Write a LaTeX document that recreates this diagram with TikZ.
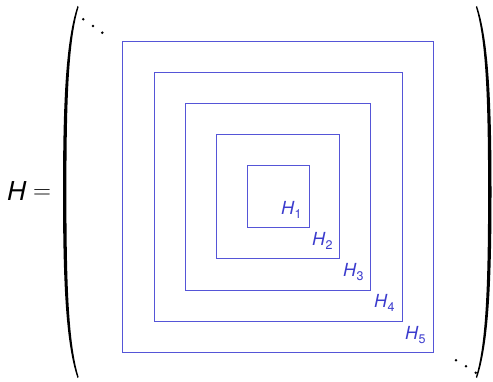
\documentclass[tikz,border=0pt]{standalone}
\usepackage{fontspec}
\setmainfont{TeX Gyre Heros}
\definecolor{boxblue}{RGB}{60,60,205}
\definecolor{lineblue}{RGB}{85,85,215}
\begin{document}
\begin{tikzpicture}[x=1pt,y=-1pt,
  sq/.style={draw=lineblue,line width=0.8pt},
  lab/.style={text=boxblue,anchor=base west,inner sep=0pt,font=\fontsize{18}{18}\selectfont},
  dot/.style={fill=black,draw=none}]
\useasboundingbox (0,0) rectangle (493,382);
% squares
\draw[sq] (247,165) rectangle (309,227);
\draw[sq] (216,134) rectangle (339,258);
\draw[sq] (185,103) rectangle (370,290);
\draw[sq] (154,72) rectangle (402,321);
\draw[sq] (122,41) rectangle (433,352);
% labels
\newcommand\hsub[1]{\textit{H}\raisebox{-4pt}{\fontsize{12.5}{12.5}\selectfont #1}}
\node[lab] (h1) at (281,215) {\hsub{1}};
\node[lab] (h2) at (312,246) {\hsub{2}};
\node[lab] (h3) at (343,277) {\hsub{3}};
\node[lab] (h4) at (374,308) {\hsub{4}};
\node[lab] (h5) at (405,339) {\hsub{5}};
% H =
\node[anchor=base west,inner sep=0pt,font=\fontsize{26}{26}\selectfont] (hh) at (7,201) {\textit{H}};
\node[anchor=center,inner sep=0pt,font=\fontsize{23}{23}\selectfont] (eq) at (42,194) {$=$};
% parentheses
\fill (77.5,6) .. controls (66,40) and (63,100) .. (63,192) .. controls (63,284) and (66,344) .. (77.5,378)
  -- (78.6,377) .. controls (68.5,344) and (66.4,284) .. (66.4,192) .. controls (66.4,100) and (68.5,40) .. (78.6,7) -- cycle;
\begin{scope}[xshift=554.5pt,xscale=-1]
\fill (77.5,6) .. controls (66,40) and (63,100) .. (63,192) .. controls (63,284) and (66,344) .. (77.5,378)
  -- (78.6,377) .. controls (68.5,344) and (66.4,284) .. (66.4,192) .. controls (66.4,100) and (68.5,40) .. (78.6,7) -- cycle;
\end{scope}
% dots
\foreach \p in {(83.3,19.3),(93,26),(102.3,32.7),(456,360.3),(466,366.3),(475.7,372.7)}
  \fill[dot] \p circle (1.4);
\end{tikzpicture}
\end{document}
